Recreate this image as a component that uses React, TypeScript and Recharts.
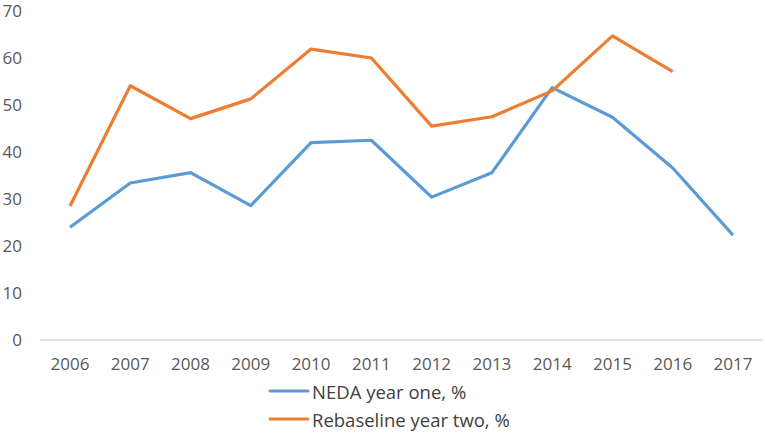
import { LineChart, Line, XAxis, YAxis, Legend } from "recharts"

const years = ["2006", "2007", "2008", "2009", "2010", "2011", "2012", "2013", "2014", "2015", "2016", "2017"]
const nedaYearOne = [24.0, 33.4, 35.6, 28.6, 42.0, 42.5, 30.4, 35.6, 53.7, 47.4, 36.6, 22.3]
const rebaselineYearTwo = [28.5, 54.1, 47.1, 51.3, 61.9, 60.0, 45.5, 47.5, 53.0, 64.7, 57.1, null]
const yTicks = [0, 10, 20, 30, 40, 50, 60, 70]

const BLUE = "#5b9bd5"
const ORANGE = "#ed7d31"
const FONT = "'Open Sans', sans-serif"

const data = years.map((year, i) => ({
  year,
  neda: nedaYearOne[i],
  rebaseline: rebaselineYearTwo[i],
}))

function LegendRows({ payload }: { payload?: any[] }) {
  return (
    <div style={{ fontFamily: FONT, fontSize: 18.5, color: "#404040" }}>
      {(payload ?? []).map((entry) => (
        <div key={entry.value} style={{ display: "flex", alignItems: "center", height: 28 }}>
          <svg width={42} height={6} style={{ marginRight: 2 }}>
            <line x1={2} y1={3} x2={40} y2={3} stroke={entry.color} strokeWidth={3} strokeLinecap="round" />
          </svg>
          <span>{entry.value}</span>
        </div>
      ))}
    </div>
  )
}

export default function App() {
  return (
    <div style={{ position: "absolute", left: 0, top: 0, background: "#fff" }}>
      <LineChart width={765} height={434} data={data} margin={{ top: 11, right: 2, bottom: 64, left: 0 }}>
        <XAxis
          dataKey="year"
          padding={{ left: 30, right: 30 }}
          axisLine={{ stroke: "#d9d9d9", strokeWidth: 1.5 }}
          tickLine={false}
          tickSize={0}
          tickMargin={18}
          tick={{ fill: "#595959", fontSize: 17, fontFamily: FONT }}
          interval={0}
        />
        <YAxis
          width={40}
          domain={[0, 70]}
          ticks={yTicks}
          axisLine={false}
          tickLine={false}
          tickSize={0}
          tickMargin={18}
          tick={{ fill: "#595959", fontSize: 17, fontFamily: FONT }}
        />
        <Legend
          layout="vertical"
          align="center"
          verticalAlign="middle"
          wrapperStyle={{ top: 377, left: 268, width: "auto" }}
          content={<LegendRows />}
        />
        <Line
          type="linear"
          dataKey="neda"
          name="NEDA year one, %"
          stroke={BLUE}
          strokeWidth={3.2}
          dot={false}
          strokeLinejoin="round"
          isAnimationActive={false}
        />
        <Line
          type="linear"
          dataKey="rebaseline"
          name="Rebaseline year two, %"
          stroke={ORANGE}
          strokeWidth={3.2}
          dot={false}
          strokeLinejoin="round"
          isAnimationActive={false}
        />
      </LineChart>
    </div>
  )
}
